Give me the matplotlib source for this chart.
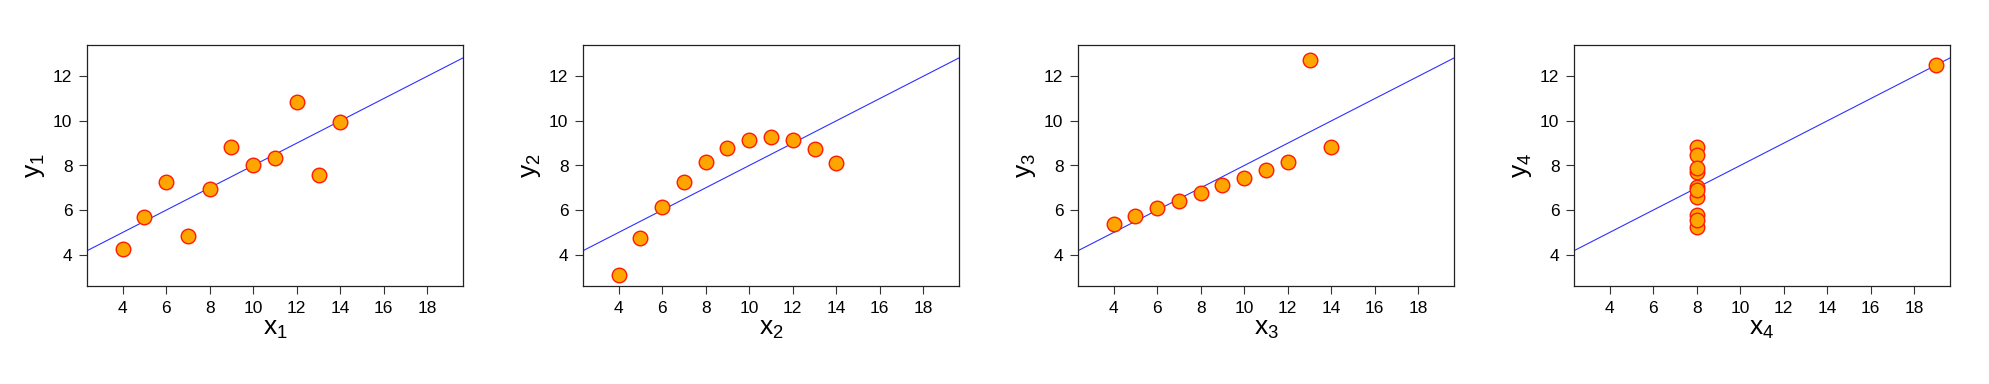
import numpy as np
import matplotlib
matplotlib.use("Agg")
import matplotlib.pyplot as plt

plt.rcParams['font.family'] = ['Liberation Sans', 'DejaVu Sans']
plt.rcParams['mathtext.fontset'] = 'custom'
plt.rcParams['mathtext.rm'] = 'Liberation Sans'
plt.rcParams['mathtext.it'] = 'Liberation Sans'

# Anscombe's quartet
x123 = [10, 8, 13, 9, 11, 14, 6, 4, 12, 7, 5]
y1 = [8.04, 6.95, 7.58, 8.81, 8.33, 9.96, 7.24, 4.26, 10.84, 4.82, 5.68]
y2 = [9.14, 8.14, 8.74, 8.77, 9.26, 8.10, 6.13, 3.10, 9.13, 7.26, 4.74]
y3 = [7.46, 6.77, 12.74, 7.11, 7.81, 8.84, 6.08, 5.39, 8.15, 6.42, 5.73]
x4 = [8, 8, 8, 8, 8, 8, 8, 19, 8, 8, 8]
y4 = [6.58, 5.76, 7.71, 8.84, 8.47, 7.04, 5.25, 12.50, 5.56, 7.91, 6.89]

xs = [x123, x123, x123, x4]
ys = [y1, y2, y3, y4]
xticks = [4, 6, 8, 10, 12, 14, 16, 18]
yticks = [4, 6, 8, 10, 12]

W, H = 1990, 384
fig = plt.figure(figsize=(W / 100, H / 100), dpi=100)

lefts = [87, 583, 1078, 1574]
for i, left in enumerate(lefts):
    ax = fig.add_axes([left / W, 1 - 286 / H, 376 / W, 241 / H])
    x = np.array(xs[i])
    y = np.array(ys[i])
    b, a = np.polyfit(x, y, 1)
    ax.axline((0, a), slope=b, color='#3030ff', lw=0.8, zorder=2)
    ax.scatter(x, y, s=110, facecolor='#ffa500', edgecolor='#ff1a00',
               linewidth=1.0, zorder=3)
    ax.set_xlim(2.36, 19.64)
    ax.set_ylim(2.6, 13.4)
    ax.set_xticks(xticks)
    ax.set_yticks(yticks)
    ax.tick_params(direction='out', length=5.5, width=0.8, labelsize=12.5,
                   color='#333333', pad=5)
    for s in ax.spines.values():
        s.set_linewidth(0.9)
        s.set_color('#222222')
    n = i + 1
    ax.set_xlabel(r'$\mathrm{x}_{%d}$' % n, fontsize=19, labelpad=1)
    ax.set_ylabel(r'$\mathrm{y}_{%d}$' % n, fontsize=19, labelpad=4)

fig.savefig('out.png', dpi=100)
